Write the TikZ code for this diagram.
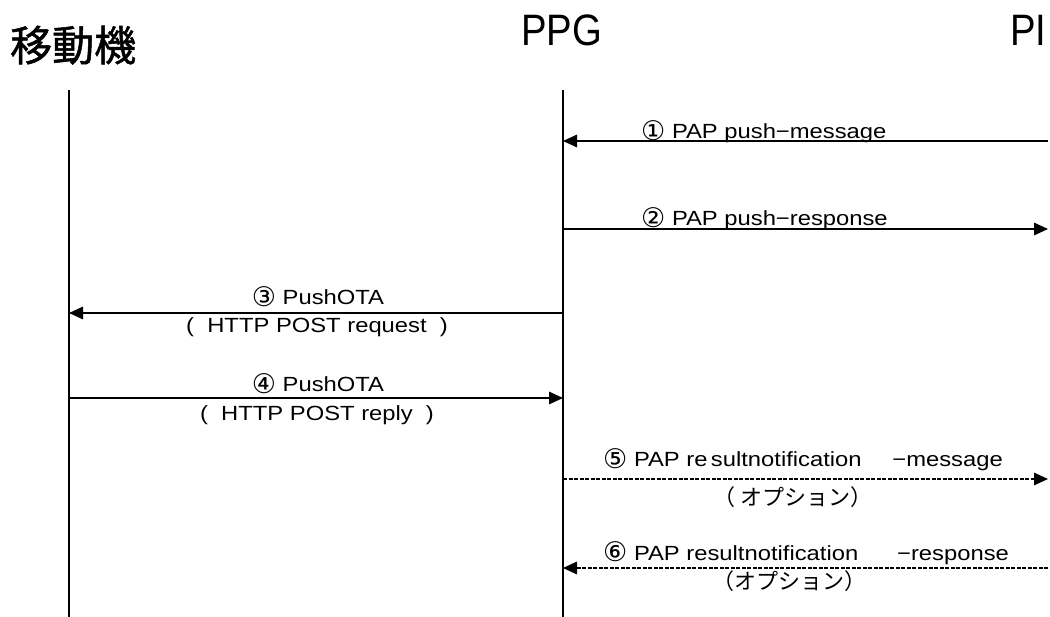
\documentclass[tikz,border=0pt]{standalone}
\usepackage{fontspec}
\setmainfont{Liberation Sans}
\newfontfamily\labfont[FakeStretch=1.16]{Liberation Sans}
\newfontfamily\titlefont[FakeStretch=0.87]{Liberation Sans}
\newfontfamily\jpfont{Noto Sans CJK JP}
\newfontfamily\jptitle[FakeBold=1.2]{Noto Sans CJK JP}
\newfontfamily\symfont{DejaVu Sans}
\usetikzlibrary{arrows.meta}
\newcommand\cnum[1]{{\symfont\fontsize{27}{30}\selectfont\raisebox{-1.5pt}{#1}}}
\newcommand\jp[1]{{\jpfont\fontsize{22}{24}\selectfont #1}}

\begin{document}
\begin{tikzpicture}[x=1pt,y=-1pt,
  lifeline/.style={line width=1.5pt},
  msg/.style={line width=1.5pt,-{Triangle[length=14pt,width=12.5pt]}},
  optmsg/.style={msg,dash pattern=on 4pt off 1.5pt},
  lab/.style={inner sep=0pt,anchor=base west,font=\labfont\fontsize{20.5}{24}\selectfont},
  labc/.style={lab,anchor=base},
  title/.style={inner sep=0pt,anchor=base west,font=\titlefont\fontsize{44}{50}\selectfont}]

\useasboundingbox (0,0) rectangle (1050,617);
\fill[white] (0,0) rectangle (1050,617);

% participants
\node[title,font=\jptitle\fontsize{42}{48}\selectfont] (mob) at (10,61) {移動機};
\node[title] (ppg) at (521,46) {PPG};
\node[title] (pi) at (1010,46) {PI};

% lifelines
\coordinate (mtop) at (69,90);
\coordinate (mbot) at (69,617);
\coordinate (gtop) at (563,90);
\coordinate (gbot) at (563,617);
\draw[lifeline] (mtop) -- (mbot);
\draw[lifeline] (gtop) -- (gbot);

% message end points
\foreach \n/\y in {1/141,2/229,3/313,4/398,5/479,6/568}{
  \coordinate (m\n) at (69,\y);
  \coordinate (g\n) at (563,\y);
  \coordinate (p\n) at (1048,\y);
}

% messages
\draw[msg] (p1) -- (g1);
\draw[msg] (g2) -- (p2);
\draw[msg] (g3) -- (m3);
\draw[msg] (m4) -- (g4);
\draw[optmsg] (g5) -- (p5);
\draw[optmsg] (p6) -- (g6);

% labels
\node[lab] (l1) at (641,139) {\cnum{①} PAP push−message};
\node[lab] (l2) at (641,226) {\cnum{②} PAP push−response};
\node[labc] (l3a) at (318,305) {\cnum{③} PushOTA};
\node[labc] (l3b) at (317,333) {(\ \ HTTP POST request\ \ )};
\node[labc] (l4a) at (318,392) {\cnum{④} PushOTA};
\node[labc] (l4b) at (317,421) {(\ \ HTTP POST reply\ \ )};
\node[lab] (l5a) at (603,467) {\cnum{⑤} PAP re\,sultnotification\hspace{1.5em}−message};
\node[labc] (l5b) at (793,505) {\jp{（\ オプション）}};
\node[lab] (l6a) at (603,560) {\cnum{⑥} PAP resultnotification\hspace{1.9em}−response};
\node[labc] (l6b) at (789,589) {\jp{（オプション）}};
\end{tikzpicture}
\end{document}
